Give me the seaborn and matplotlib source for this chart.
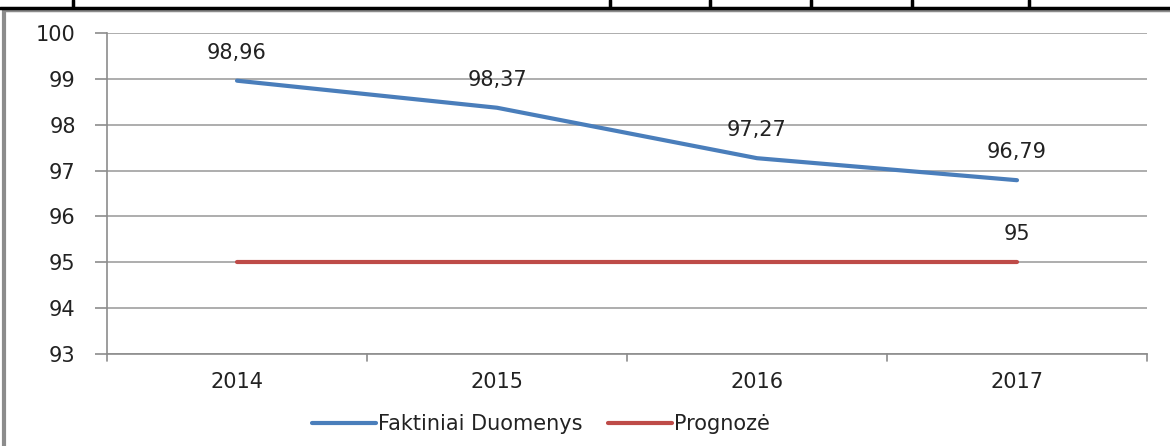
import seaborn as sns
import matplotlib.pyplot as plt
import pandas as pd
from matplotlib.lines import Line2D

years = ['2014', '2015', '2016', '2017']
faktiniai = [98.96, 98.37, 97.27, 96.79]
prognoze = [95, 95, 95, 95]
labels_fakt = ['98,96', '98,37', '97,27', '96,79']

sns.set_style('white')
plt.rcParams['font.family'] = ['DejaVu Sans']
FS = 15

df = pd.DataFrame({'year': years * 2,
                   'value': faktiniai + prognoze,
                   'series': ['Faktiniai Duomenys'] * 4 + ['Prognozė'] * 4})

fig = plt.figure(figsize=(11.7, 4.46), dpi=100)
ax = fig.add_axes([107 / 1170, 1 - 354 / 446, 1040 / 1170, 321 / 446])

sns.lineplot(data=df, x='year', y='value', hue='series',
             palette=['#4a7ebb', '#be4b48'], linewidth=3, ax=ax, legend=False)

ax.set_xlim(-0.5, 3.5)
ax.set_ylim(93, 100)
ax.set_yticks(range(93, 101))
ax.set_xlabel('')
ax.set_ylabel('')
ax.grid(axis='y', color='#a0a0a0', linewidth=1.2)
ax.grid(axis='x', visible=False)
for s in ['top', 'right']:
    ax.spines[s].set_visible(False)
for s in ['left', 'bottom']:
    ax.spines[s].set_color('#8c8c8c')
    ax.spines[s].set_linewidth(1.2)
ax.tick_params(axis='y', length=8.5, color='#8c8c8c', width=1.2, labelsize=FS, pad=14,
               left=True, labelcolor='#222222')
ax.tick_params(axis='x', length=0, labelsize=FS, pad=13, labelcolor='#222222')
# category boundary tick marks
for b in [-0.5, 0.5, 1.5, 2.5, 3.5]:
    ax.plot([b, b], [93, 92.85], color='#8c8c8c', lw=1.2, clip_on=False)

for i, (v, t) in enumerate(zip(faktiniai, labels_fakt)):
    ax.annotate(t, (i, v), xytext=(0, 13), textcoords='offset points',
                ha='center', va='bottom', fontsize=FS, color='#222222')
ax.annotate('95', (3, prognoze[3]), xytext=(0, 13), textcoords='offset points',
            ha='center', va='bottom', fontsize=FS, color='#222222')

handles = [Line2D([], [], color='#4a7ebb', lw=3), Line2D([], [], color='#be4b48', lw=3)]
fig.legend(handles, ['Faktiniai Duomenys', 'Prognozė'], loc='center',
           bbox_to_anchor=(541 / 1170, 1 - 424 / 446), ncol=2, frameon=False,
           fontsize=FS, handlelength=3.1, handletextpad=0.1, columnspacing=1.2,
           labelcolor='#222222')

# chart frame and table edge from the source document
fig.add_artist(Line2D([4 / 1170, 4 / 1170], [0, 1 - 10 / 446], color='#8c8c8c', lw=3,
                      transform=fig.transFigure))
fig.add_artist(Line2D([4 / 1170, 1], [1 - 10 / 446, 1 - 10 / 446], color='#8c8c8c', lw=2.5,
                      transform=fig.transFigure))
fig.add_artist(Line2D([0, 1], [1 - 7.5 / 446, 1 - 7.5 / 446], color='black', lw=2.5,
                      transform=fig.transFigure))
for xp in [73, 610, 710, 811, 912, 1029]:
    fig.add_artist(Line2D([xp / 1170, xp / 1170], [1 - 7 / 446, 1], color='black', lw=2.5,
                          transform=fig.transFigure))

fig.savefig('out.png', dpi=100)
